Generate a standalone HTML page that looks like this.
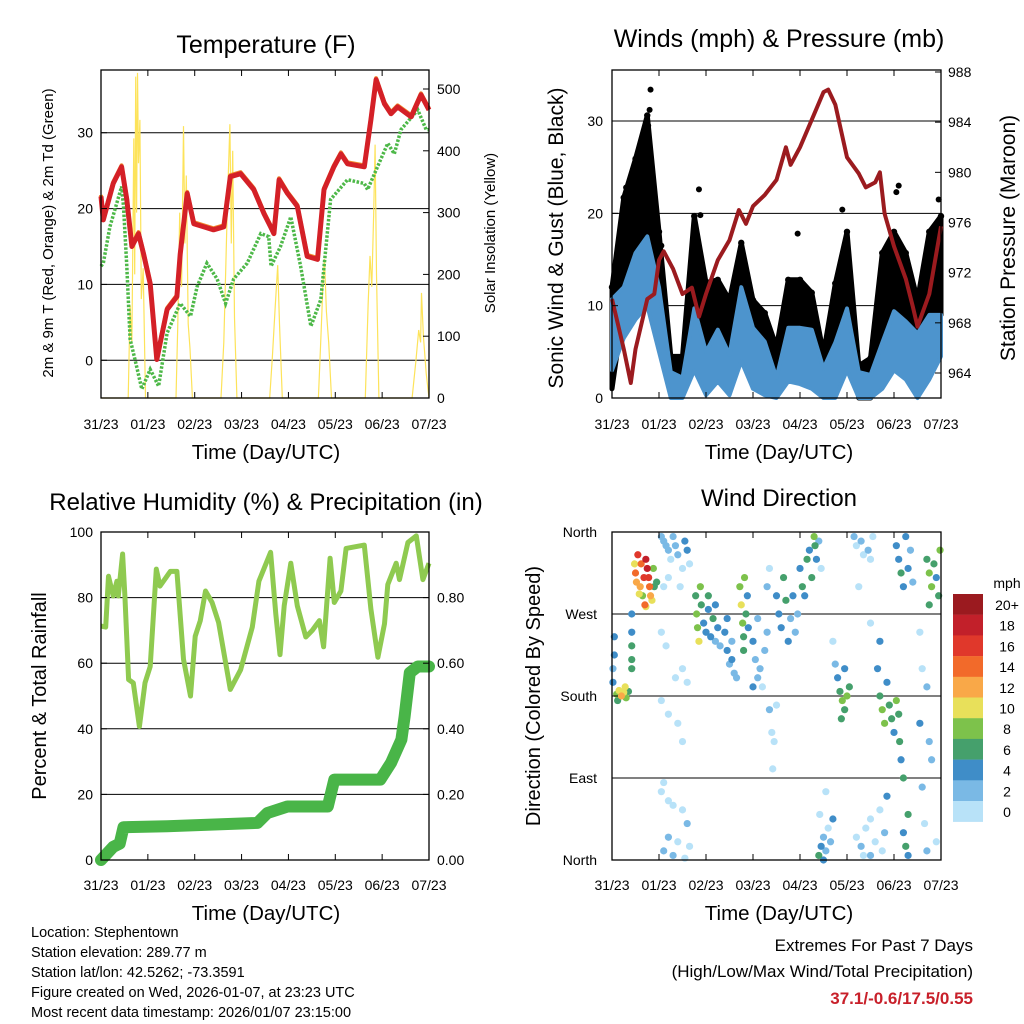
<!DOCTYPE html>
<html><head><meta charset="utf-8">
<style>
html,body{margin:0;padding:0;background:#fff;}
svg{display:block;font-family:"Liberation Sans",Arial,sans-serif;}
</style></head>
<body>
<svg id="root" width="1024" height="1024" viewBox="0 0 1024 1024"></svg>
<script>
// ---------- DATA ----------
const dayLabels = ["31/23","01/23","02/23","03/23","04/23","05/23","06/23","07/23"];
// Temperature (F)
const tempT = [0,0.05,0.26,0.44,0.55,0.66,0.80,0.91,1.05,1.19,1.41,1.62,1.69,1.84,1.98,2.19,2.40,2.62,2.76,2.98,3.26,3.48,3.62,3.69,3.80,3.98,4.19,4.40,4.62,4.76,4.97,5.12,5.26,5.62,5.76,5.87,6.05,6.19,6.33,6.62,6.83,7.0];
const tempV = [21.6,18.5,23.3,25.5,21.2,15,16.7,14,10.1,0.1,6.7,8.4,14,22,18,17.6,17.2,17.6,24.2,24.6,22.5,19.3,17.6,16.7,23.8,22,20.3,13.7,13.3,22.5,25.5,27.2,25.9,25.5,31.7,37,33.8,32.5,33.4,32.1,35,33];
const dewT = [0,0.05,0.19,0.44,0.48,0.55,0.62,0.76,0.87,1.05,1.23,1.41,1.69,1.91,2.05,2.26,2.48,2.66,2.83,3.12,3.41,3.58,3.63,3.83,4.05,4.26,4.48,4.69,4.90,5.26,5.62,5.69,5.90,6.12,6.26,6.40,6.76,6.94,7.0];
const dewV = [12.4,12.8,17.6,22.9,20.3,12.4,2.8,-0.8,-3.8,-1.2,-3.4,3.6,7.5,5.8,9.7,12.8,10.7,7.5,10.7,12.8,16.7,16.3,12.4,15,18.9,12.4,4.5,8,21.2,23.8,23.3,22.5,25.5,28.6,27.2,30.4,33,30.4,30.4];
const solarT = [0,0.58,0.62,0.66,0.70,0.72,0.74,0.76,0.78,0.80,0.83,0.86,0.90,0.95,1.6,1.64,1.68,1.72,1.76,1.79,1.82,1.86,1.90,1.95,2.56,2.62,2.66,2.70,2.75,2.78,2.81,2.85,2.90,3.60,3.66,3.72,3.77,3.81,3.87,4.64,4.70,4.74,4.77,4.81,4.86,4.92,5.64,5.70,5.74,5.78,5.82,5.85,5.88,5.93,6.64,6.72,6.78,6.82,6.84,6.88,6.94,7.0];
const solarV = [0,0,150,90,420,200,520,300,526,380,450,160,210,0,0,120,300,180,440,250,360,120,80,0,0,90,200,320,443,250,400,130,0,0,70,150,215,120,0,0,110,190,225,140,90,0,0,150,230,180,300,410,200,0,0,60,110,90,170,100,40,0];
// Winds
const windT = [0,0.25,0.5,0.75,1.0,1.25,1.5,1.75,2.0,2.25,2.5,2.75,3.0,3.25,3.5,3.75,4.0,4.25,4.5,4.75,5.0,5.25,5.5,5.75,6.0,6.25,6.5,6.75,7.0];
const windMax = [10.7,12,15.7,17.5,12,2.8,2.2,9.7,5,7.4,4.7,12,7.6,6.1,2.2,7.6,7.6,7.4,3.2,6,9.7,2.8,2.5,6,9.4,8.3,7,9,9];
const windMin = [3,6.5,8.5,10,5,0,0,3,0.3,1.8,0.3,4,1,0.3,0,1.8,1.5,1,0,0,3,0,0,1,3,2,0,2,4.5];
const gustMax = [12,21.7,25.9,30.6,18,4.5,4.5,19.7,12.5,12.8,10.6,16.8,10.6,9.2,5.5,12.8,12.8,11.4,4.8,12.4,18,3.5,4.3,15.7,18,15.7,10.6,18,19.7];
const gustMin = [1,10,13.6,15,10,0.5,0.5,6.5,4,5,3,8.5,4,1.5,0.5,4,4,3,0.5,3,7.5,0,0,6,6.5,3,1.5,8.5,9];
const gustOutT = [0.82,0.80,0.77,0.30,0.35,1.85,1.88,3.95,4.9,6.05,6.1,6.95,0.55,1.05];
const gustOutV = [33.4,31.2,29.5,22.8,22.5,22.6,19.8,17.8,20.4,22.3,23,21.5,23.5,16.5];
const presT = [0,0.25,0.4,0.5,0.75,0.9,1.0,1.1,1.3,1.5,1.7,1.85,2.0,2.25,2.5,2.7,2.85,3.0,3.25,3.5,3.7,3.8,4.0,4.25,4.5,4.6,4.75,5.0,5.25,5.4,5.6,5.7,5.8,6.0,6.25,6.4,6.5,6.75,7.0];
const presV = [969.9,965.9,963.2,965.9,969.9,970.3,973,973.7,972.3,970.3,970.8,968.5,970.3,973,974.6,977,975.9,977.3,978.2,979.4,982,980.6,982,984.2,986.4,986.6,985.4,981.2,979.9,978.8,979.2,980,976.7,974.1,971.5,969.3,967.7,970.3,975.7];
// RH and precipitation
const rhT = [0,0.1,0.16,0.26,0.34,0.37,0.46,0.51,0.59,0.69,0.82,0.94,1.05,1.18,1.26,1.48,1.62,1.76,1.91,2.01,2.12,2.23,2.37,2.51,2.76,2.98,3.23,3.37,3.62,3.73,3.82,3.91,4.05,4.19,4.37,4.51,4.66,4.75,4.89,4.98,5.12,5.23,5.62,5.76,5.91,6.05,6.12,6.3,6.37,6.55,6.73,6.87,7.0];
const rhV = [71.3,71,86.5,80.5,85,80.5,93.3,80.5,55,54,40.7,54,59,88.7,83.5,88,88,61.2,50,68.2,73,82,78.5,72.4,52,58,71,85,93.8,75,62.6,77.5,90.5,77.5,68,70,73,65,92,78.5,82,95,96,76.5,61.8,72,84,90.5,85.5,96.8,98.8,85.5,90.5];
const rainT = [0,0.26,0.40,0.48,1.41,3.34,3.55,3.98,4.84,4.98,5.96,6.19,6.41,6.48,6.59,6.76,7.0];
const rainV = [0,0.04,0.05,0.10,0.103,0.113,0.143,0.163,0.163,0.245,0.245,0.296,0.367,0.437,0.571,0.59,0.59];
// Wind direction scatter: time (days), direction (deg), speed (mph)
const dirT = [0.1,0.15,0.2,0.25,0.3,0.35,0.12,0.28,0.05,0.05,0.42,0.42,0.42,0.42,0.42,0.02,0.02,
0.48,0.5,0.52,0.55,0.6,0.65,0.7,0.72,0.75,0.78,0.8,0.82,0.85,0.88,0.9,0.95,0.62,0.68,0.58,0.72,
1.05,1.1,1.15,1.2,1.25,1.3,1.35,1.4,1.5,1.55,1.6,1.65,1.1,1.2,1.45,
1.05,1.15,1.35,1.5,1.6,1.05,1.2,1.4,1.5,1.05,1.1,1.2,1.3,1.5,1.6,1.65,1.1,1.2,1.3,1.4,1.55,
1.78,1.8,1.82,1.85,1.9,1.95,2.0,2.05,2.1,2.15,2.2,2.25,2.3,2.2,1.88,2.05,
2.4,2.45,2.5,2.55,2.6,2.45,2.55,2.65,
2.72,2.75,2.78,2.8,2.82,2.85,2.88,2.9,2.8,
3.0,3.05,3.1,3.15,3.2,3.25,3.3,3.0,3.1,3.35,3.4,3.45,3.42,3.5,
3.5,3.55,3.6,3.65,3.7,3.75,3.8,3.85,3.9,3.95,3.3,3.35,
4.0,4.05,4.1,4.15,4.2,4.25,4.3,4.32,4.35,4.4,4.45,
4.4,4.45,4.5,4.55,4.6,4.65,4.7,4.5,4.42,4.55,
4.8,4.85,4.9,4.95,5.0,5.05,4.88,4.95,4.75,4.7,
5.15,5.2,5.3,5.35,5.45,5.5,5.55,5.25,5.5,
5.2,5.3,5.4,5.5,5.6,5.7,5.8,5.35,5.5,5.75,5.85,
5.7,5.75,5.8,5.85,5.9,5.95,6.0,6.05,6.1,5.65,5.7,6.12,6.15,6.2,
6.05,6.1,6.15,6.2,6.25,6.3,6.35,6.4,6.2,6.25,6.3,6.3,
6.7,6.75,6.8,6.85,6.9,6.95,6.98,6.75,6.55,6.6,6.7,6.75,6.8,6.6,6.65,6.7,6.9,6.55];
const dirV = [182,186,180,184,178,185,175,190,245,225,270,250,235,220,210,195,210,
325,315,305,335,300,290,280,330,320,310,300,290,285,320,300,305,325,310,292,278,
355,350,345,340,330,355,345,335,320,350,340,325,300,310,300,
250,235,200,210,195,175,160,150,130,75,85,65,60,55,40,15,10,25,5,20,2,
290,270,255,240,280,260,250,275,245,265,280,255,235,240,300,290,
250,230,215,240,205,265,220,200,
300,280,260,245,310,270,290,255,230,
240,220,200,210,190,230,250,190,265,165,140,130,100,170,
290,270,255,310,285,240,265,290,250,270,300,320,
320,300,290,330,340,310,355,345,330,350,320,
5,15,25,10,35,20,45,0,50,75,
200,185,175,165,180,190,155,210,215,240,
355,345,350,335,340,330,355,300,260,
25,15,35,45,20,55,30,5,5,10,70,
180,165,150,195,170,155,140,175,160,210,240,130,110,90,
345,330,315,300,355,320,340,305,30,15,5,50,
330,315,300,325,310,290,340,280,250,210,190,130,110,80,40,10,20,150];
const dirS = [8,11,12,10,9,7,6,10,4,4,4,4,6,6,6,4,2,
10,14,12,16,12,8,14,18,18,16,14,12,10,8,6,6,14,16,10,10,
2,3,2,3,1,2,2,3,1,4,4,1,1,1,1,
0,1,1,1,1,1,1,1,1,1,1,1,1,1,2,1,2,3,2,1,1,
6,8,8,10,7,4,4,4,4,6,4,4,3,2,8,6,
4,4,3,2,2,4,4,2,
8,10,8,6,8,6,4,4,6,
4,2,2,2,1,3,2,4,3,2,1,1,1,1,
4,4,4,6,6,4,2,4,2,2,2,1,
4,6,4,6,4,6,8,6,4,2,1,
6,4,2,2,1,2,4,4,1,1,
4,6,8,6,8,6,6,4,2,1,
2,1,2,1,2,1,1,1,1,
1,2,1,1,1,1,2,1,2,1,4,
6,8,8,4,6,6,4,8,6,4,4,6,4,6,
4,4,6,4,4,4,2,2,4,6,4,6,
6,8,8,6,4,6,8,6,1,1,2,2,2,2,1,2,1,4];
const cbLabels = ["20+","18","16","14","12","10","8","6","4","2","0"];
const cbColors = ["#9b1a1f","#c2202a","#e0382b","#f26a2a","#f9a848","#e8e05a","#7dc24b","#45a06c","#3f8dc8","#7ab9e5","#b8e2f8"];

// ---------- HELPERS ----------
const NS = "http://www.w3.org/2000/svg";
const root = document.getElementById("root");
function el(tag, attrs, parent, text){
  const e = document.createElementNS(NS, tag);
  for (const k in attrs) e.setAttribute(k, attrs[k]);
  if (text !== undefined) e.textContent = text;
  (parent || root).appendChild(e);
  return e;
}
function txt(x,y,s,size,anchor,parent,rot,weight,fill){
  const t = el("text",{x:x,y:y,"font-size":size,"text-anchor":anchor||"middle",fill:fill||"#000"},parent,s);
  if (rot) t.setAttribute("transform","rotate("+rot+" "+x+" "+y+")");
  if (weight) t.setAttribute("font-weight",weight);
  return t;
}
function lin(d0,d1,r0,r1){ return v => r0 + (v-d0)/(d1-d0)*(r1-r0); }
function path(xs, ys){ return xs.map((x,i)=>(i?"L":"M")+x.toFixed(1)+","+ys[i].toFixed(1)).join(""); }

function frame(g, L, R, T, B, xs, labY){
  el("rect",{x:L,y:T,width:R-L,height:B-T,fill:"none",stroke:"#000","stroke-width":1.3},g);
  for (let i=0;i<dayLabels.length;i++){
    const x = xs(i);
    el("line",{x1:x,y1:B,x2:x,y2:B-6,stroke:"#000","stroke-width":1},g);
    el("line",{x1:x,y1:T,x2:x,y2:T+6,stroke:"#000","stroke-width":1},g);
    const t = txt(x,labY,dayLabels[i],14,"middle",g);
    
    
  }
}

// ---------- PANEL 1: TEMPERATURE ----------
(function(){
  const L=101,R=429,T=70,B=398;
  const g = el("g",{});
  
  
  const xs = lin(0,7,L,R), yT = lin(0,30,360.3,132.7), yS = lin(0,500,398,89);
  [0,10,20,30].forEach(v=>el("line",{x1:L,x2:R,y1:yT(v),y2:yT(v),stroke:"#000","stroke-width":1},g));
  const sol = el("path",{d:path(solarT.map(xs),solarV.map(yS)),fill:"none",stroke:"#fde35a","stroke-width":1.2},g);
  
  
  const dw = el("path",{d:path(dewT.map(xs),dewV.map(yT)),fill:"none",stroke:"#4db848","stroke-width":3.5,"stroke-dasharray":"2.5 1.6"},g);
  
  
  const t9 = el("path",{d:path(tempT.map(xs),tempV.map(v=>yT(v)-1.5)),fill:"none",stroke:"#f0882c","stroke-width":4,"stroke-linejoin":"round"},g);
  
  
  const t2 = el("path",{d:path(tempT.map(xs),tempV.map(yT)),fill:"none",stroke:"#d42027","stroke-width":5,"stroke-linejoin":"round"},g);
  
  
  frame(g,L,R,T,B,i=>xs(i),429);
  [0,10,20,30].forEach(v=>{el("line",{x1:L,x2:L+6,y1:yT(v),y2:yT(v),stroke:"#000"},g);const t=txt(93,yT(v)+5,String(v),14,"end",g);});
  [0,100,200,300,400,500].forEach(v=>{el("line",{x1:R,x2:R-6,y1:yS(v),y2:yS(v),stroke:"#000"},g);const t=txt(437,yS(v)+5,String(v),14,"start",g);});
  let t;
  t=txt(266,53,"Temperature (F)",25,"middle",g);
  t=txt(266,459,"Time (Day/UTC)",20.5,"middle",g);
  t=txt(53,233,"2m & 9m T (Red, Orange) & 2m Td (Green)",15,"middle",g,-90);
  t=txt(495,233,"Solar Insolation (Yellow)",15,"middle",g,-90);
})();

// ---------- PANEL 2: WINDS ----------
(function(){
  const L=612,R=941,T=70,B=398;
  const g = el("g",{});
  
  
  const xs = lin(0,7,L,R), yW = lin(0,30,398,121), yP = lin(964,988,373,72);
  [10,20,30].forEach(v=>el("line",{x1:L,x2:R,y1:yW(v),y2:yW(v),stroke:"#000","stroke-width":1},g));
  const gx = windT.map(xs);
  const gb = el("path",{d:path(gx.concat(gx.slice().reverse()),gustMax.map(yW).concat(gustMin.map(yW).reverse()))+"Z",fill:"#000",stroke:"#000","stroke-width":5,"stroke-linejoin":"round"},g);
  
  
  windT.forEach((d,i)=>{const c=el("circle",{cx:xs(d),cy:yW(gustMax[i]),r:3.2,fill:"#000"},g);});
  gustOutT.forEach((d,i)=>{const c=el("circle",{cx:xs(d),cy:yW(gustOutV[i]),r:3,fill:"#000"},g);});
  const wb = el("path",{d:path(gx.concat(gx.slice().reverse()),windMax.map(yW).concat(windMin.map(yW).reverse()))+"Z",fill:"#4d94cd",stroke:"#4d94cd","stroke-width":4,"stroke-linejoin":"round"},g);
  
  
  const pl = el("path",{d:path(presT.map(xs),presV.map(yP)),fill:"none",stroke:"#9b1b1f","stroke-width":4,"stroke-linejoin":"round"},g);
  
  
  frame(g,L,R,T,B,i=>xs(i),429);
  [0,10,20,30].forEach(v=>{el("line",{x1:L,x2:L+6,y1:yW(v),y2:yW(v),stroke:"#000"},g);const t=txt(603,yW(v)+5,String(v),14,"end",g);});
  [964,968,972,976,980,984,988].forEach(v=>{el("line",{x1:R,x2:R-6,y1:yP(v),y2:yP(v),stroke:"#000"},g);const t=txt(948,yP(v)+5,String(v),14,"start",g);});
  let t;
  t=txt(779,47,"Winds (mph) & Pressure (mb)",25,"middle",g);
  t=txt(779,459,"Time (Day/UTC)",20.5,"middle",g);
  t=txt(563,238,"Sonic Wind & Gust (Blue, Black)",21,"middle",g,-90);
  t=txt(1015,238,"Station Pressure (Maroon)",21,"middle",g,-90);
})();

// ---------- PANEL 3: RH & PRECIP ----------
(function(){
  const L=101,R=429,T=532,B=860;
  const g = el("g",{});
  
  
  const xs = lin(0,7,L,R), yH = lin(0,100,860,532), yR = lin(0,1,860,532);
  [20,40,60,80].forEach(v=>el("line",{x1:L,x2:R,y1:yH(v),y2:yH(v),stroke:"#000","stroke-width":1},g));
  const rh = el("path",{d:path(rhT.map(xs),rhV.map(yH)),fill:"none",stroke:"#8fca50","stroke-width":5,"stroke-linejoin":"round"},g);
  
  
  const rn = el("path",{d:path(rainT.map(xs),rainV.map(yR)),fill:"none",stroke:"#49b548","stroke-width":12,"stroke-linejoin":"round","stroke-linecap":"round"},g);
  
  
  frame(g,L,R,T,B,i=>xs(i),890);
  [0,20,40,60,80,100].forEach(v=>{el("line",{x1:L,x2:L+6,y1:yH(v),y2:yH(v),stroke:"#000"},g);const t=txt(93,yH(v)+5,String(v),14,"end",g);});
  ["0.00","0.20","0.40","0.60","0.80"].forEach(s=>{const v=parseFloat(s);el("line",{x1:R,x2:R-6,y1:yR(v),y2:yR(v),stroke:"#000"},g);const t=txt(437,yR(v)+5,s,14,"start",g);});
  let t;
  t=txt(266,510,"Relative Humidity (%) & Precipitation (in)",24,"middle",g);
  t=txt(266,920,"Time (Day/UTC)",20.5,"middle",g);
  t=txt(46,696,"Percent & Total Rainfall",20,"middle",g,-90);
})();

// ---------- PANEL 4: WIND DIRECTION ----------
(function(){
  const L=612,R=941,T=532,B=860;
  const g = el("g",{});
  
  
  const xs = lin(0,7,L,R), yD = lin(0,360,860,532);
  [90,180,270].forEach(v=>el("line",{x1:L,x2:R,y1:yD(v),y2:yD(v),stroke:"#000","stroke-width":1},g));
  function colorFor(s){ let idx = Math.min(10, Math.floor(s/2)); return cbColors[10-idx]; }
  const order = dirT.map((d,i)=>i).sort((a,b)=>dirS[a]-dirS[b]);
  order.forEach(i=>{
    const c = el("circle",{cx:xs(dirT[i]),cy:yD(dirV[i]),r:3.6,fill:colorFor(dirS[i])},g);
    
    
  });
  frame(g,L,R,T,B,i=>xs(i),890);
  ["North","East","South","West","North"].forEach((s,i)=>{const v=i*90;el("line",{x1:L,x2:L+6,y1:yD(v),y2:yD(v),stroke:"#000"},g);const t=txt(597,yD(v)+5,s,14,"end",g);});
  let t;
  t=txt(779,506,"Wind Direction",24,"middle",g);
  t=txt(779,920,"Time (Day/UTC)",20.5,"middle",g);
  t=txt(540,696,"Direction (Colored By Speed)",20,"middle",g,-90);
  const cb = el("g",{});
  
  
  t=txt(1007,588,"mph",14,"middle",cb);
  cbLabels.forEach((s,i)=>{
    const y = 594 + i*20.7;
    const r = el("rect",{x:953,y:y,width:30,height:20.9,fill:cbColors[i]},cb);
    
    
    const l = txt(1007,y+16,s,14,"middle",cb);
    
    
  });
})();

// ---------- FOOTER TEXT ----------
(function(){
  const g = el("g",{});
  
  
  ["Location: Stephentown","Station elevation: 289.77 m","Station lat/lon: 42.5262; -73.3591","Figure created on Wed, 2026-01-07, at 23:23 UTC","Most recent data timestamp: 2026/01/07 23:15:00"].forEach((s,i)=>{
    const t = txt(31,937+i*20,s,14.5,"start",g);
    
    
  });
  const e = el("g",{});
  
  
  let t;
  t=txt(973,951,"Extremes For Past 7 Days",17,"end",e);
  t=txt(973,977,"(High/Low/Max Wind/Total Precipitation)",17,"end",e);
  t=txt(973,1004,"37.1/-0.6/17.5/0.55",17,"end",e,0,"bold","#c8202a");
})();
</script>
</body></html>
